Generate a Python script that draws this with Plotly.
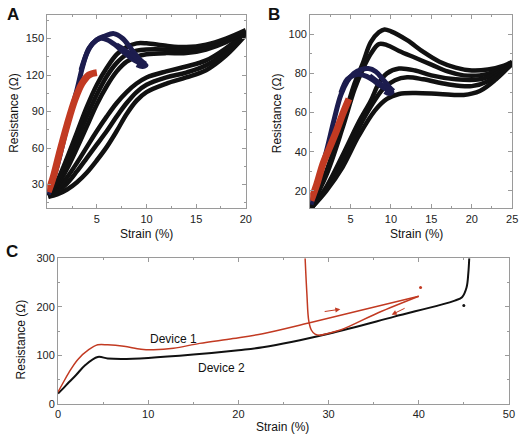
import plotly.graph_objects as go

W, H = 528, 442

# ---------------- Panel A data (strain %, resistance ohm) ----------------
a_red_x = [0.1, 0.6, 1.2, 2.0, 2.8, 3.5, 4.2, 5.0]
a_red_y = [24, 36, 55, 79, 100, 113, 120, 122]

a_nav1_x = [0.1, 1.0, 2.0, 3.0, 3.6, 4.2, 5.0, 5.8, 6.7, 7.6, 8.5, 9.3, 9.9]
a_nav1_y = [22, 45, 78, 108, 128, 142, 149, 152, 154, 150, 141, 133, 129]
a_nav2_x = [3.4, 4.0, 4.6, 5.3, 6.0, 6.8, 7.8, 8.8, 9.8]
a_nav2_y = [124, 138, 146, 150, 149, 145, 138, 132, 128]
a_nav3_x = [7.0, 7.8, 8.6, 9.4, 10.0, 9.6, 9.0]
a_nav3_y = [145, 141, 136, 131, 128, 126.5, 128]

a_grid_x = [0.1, 1, 2, 3, 4, 5, 6, 7, 8, 9, 10, 12, 14, 16, 18, 20]
a_up1_y = [21, 29, 43, 60, 78, 96, 111, 123, 131, 135, 137, 138, 138, 141, 147, 156]
a_up2_y = [21, 31, 48, 67, 86, 104, 119, 130, 137, 140, 141, 141, 140, 143, 148, 156]
a_up3_y = [21, 33, 52, 73, 94, 112, 126, 137, 143, 146, 146, 144, 143, 145, 150, 157]
a_lo1_y = [20, 22, 26, 32, 40, 50, 61, 74, 88, 99, 106, 113, 118, 124, 136, 153]
a_lo2_y = [20, 24, 31, 41, 52, 63, 74, 86, 97, 106, 112, 118, 122, 128, 139, 154]
a_lo3_y = [21, 26, 36, 48, 61, 74, 86, 97, 106, 113, 118, 123, 127, 132, 142, 155]

# ---------------- Panel B data ----------------
b_red_x = [0.1, 0.8, 1.6, 2.4, 3.2, 4.0, 4.8]
b_red_y = [15, 23, 34, 42, 50, 59, 67]

b_nav1_x = [0.1, 1.0, 2.0, 3.0, 3.8, 4.6, 5.4, 6.3, 7.2, 8.1, 9.0, 9.8, 10.3]
b_nav1_y = [13, 25, 40, 57, 69, 76, 80, 82, 82.5, 81, 77, 73, 71]
b_nav2_x = [3.8, 4.6, 5.4, 6.2, 7.0, 7.8, 8.6, 9.4, 10.0]
b_nav2_y = [70, 77, 79, 79.5, 78.5, 76.5, 74, 72, 71]
b_nav3_x = [7.4, 8.2, 9.0, 9.8, 10.2, 9.8, 9.2]
b_nav3_y = [79, 76.5, 74, 72, 70.5, 69.5, 70.5]

b_k1_x = [0.1, 2, 4, 5.5, 6.5, 7.5, 8.5, 9.2, 10, 12, 14, 16, 18, 20, 22, 24, 25]
b_k1_y = [12, 30, 55, 75, 85, 96, 101, 102.5, 101.5, 97, 91, 86, 83, 81.5, 82, 84, 86]
b_k2_x = [0.1, 2, 4, 5.5, 6.5, 7.5, 8.5, 9.5, 11, 13, 15, 17, 19, 21, 23, 25]
b_k2_y = [12, 28, 52, 72, 82, 90, 95, 94.5, 91.5, 88, 84.5, 81, 79, 79, 81, 85]
b_k3_x = [0.1, 2, 4, 6, 7.5, 8.5, 9.5, 11, 13, 15, 18, 21, 23, 25]
b_k3_y = [11, 22, 38, 55, 66, 75, 80, 82.5, 81.5, 79, 77, 77, 80, 85]
b_k4_x = [0.1, 2, 4, 6, 7.5, 9, 10.5, 12, 14, 17, 20, 22, 25]
b_k4_y = [11, 21, 35, 52, 63, 72, 76.5, 78, 77, 74.5, 73.5, 76, 85]
b_k5_x = [0.1, 2, 4, 6, 8, 9.5, 11, 13, 16, 19, 21, 23, 25]
b_k5_y = [11, 20, 32, 48, 61, 67, 69.5, 70, 69.5, 69, 71, 77, 85]

# ---------------- Panel C data ----------------
c_dev1_x = [0, 0.5, 1.2, 2.2, 3.4, 4.4, 5.5, 7.3, 9.2, 10.6, 12.8, 15.7, 19.4, 22.7, 27.8, 33.6, 40.0]
c_dev1_y = [25, 42, 65, 92, 112, 122, 122, 119, 113, 112, 115, 125, 135, 145, 167, 193, 222]
c_ret_x = [40.0, 35.5, 31.4, 29.8, 29.1, 28.5, 28.1, 27.8, 27.6, 27.4]
c_ret_y = [222, 188, 153, 145, 142, 144, 152, 172, 225, 300]
c_dev2_x = [0, 0.6, 1.2, 2.0, 3.0, 4.4, 5.5, 7.0, 10.0, 15.0, 20.0, 22.7, 30.0, 37.3, 44.0, 44.8, 45.3, 45.5, 45.6]
c_dev2_y = [22, 33, 45, 60, 80, 97, 94, 93, 95, 102, 111, 117, 145, 180, 213, 220, 240, 270, 300]
c_dot_red = (40.2, 240)
c_dot_black = (45.0, 203)
c_arrow_fwd = ((29.4, 190), (31.3, 195.3))
c_arrow_back = ((38.6, 198.6), (37.0, 184))

RED = "#c23a22"
NAVY = "#1c1c4e"
BLACK = "#111111"
AX = "#9a9a9a"
FONT = "Arial, Liberation Sans, sans-serif"

fig = go.Figure()


def add(xs, ys, color, width, xa, ya, shape="spline"):
    fig.add_trace(go.Scatter(
        x=xs, y=ys, mode="lines",
        line=dict(color=color, width=width, shape=shape, smoothing=1.0),
        xaxis=xa, yaxis=ya, showlegend=False, hoverinfo="skip"))


# Panel A
for yy in [a_lo1_y, a_lo2_y, a_lo3_y, a_up1_y, a_up2_y, a_up3_y]:
    add(a_grid_x, yy, BLACK, 4.5, "x", "y")
add(a_nav1_x, a_nav1_y, NAVY, 5, "x", "y")
add(a_nav2_x, a_nav2_y, NAVY, 5, "x", "y")
add(a_nav3_x, a_nav3_y, NAVY, 4, "x", "y")
add(a_red_x, a_red_y, RED, 7, "x", "y")

# Panel B
for xx, yy in [(b_k1_x, b_k1_y), (b_k2_x, b_k2_y), (b_k3_x, b_k3_y),
               (b_k4_x, b_k4_y), (b_k5_x, b_k5_y)]:
    add(xx, yy, BLACK, 4.5, "x2", "y2")
add(b_nav1_x, b_nav1_y, NAVY, 5, "x2", "y2")
add(b_nav2_x, b_nav2_y, NAVY, 5, "x2", "y2")
add(b_nav3_x, b_nav3_y, NAVY, 4, "x2", "y2")
add(b_red_x, b_red_y, RED, 7, "x2", "y2")

# Panel C
add(c_dev2_x, c_dev2_y, BLACK, 2, "x3", "y3")
add(c_dev1_x, c_dev1_y, RED, 1.5, "x3", "y3")
add(c_ret_x, c_ret_y, RED, 1.5, "x3", "y3")
fig.add_trace(go.Scatter(x=[c_dot_red[0]], y=[c_dot_red[1]], mode="markers",
                         marker=dict(color=RED, size=3), xaxis="x3", yaxis="y3",
                         showlegend=False, hoverinfo="skip"))
fig.add_trace(go.Scatter(x=[c_dot_black[0]], y=[c_dot_black[1]], mode="markers",
                         marker=dict(color=BLACK, size=3), xaxis="x3", yaxis="y3",
                         showlegend=False, hoverinfo="skip"))


def axis(dom, rng, tickvals, minorvals, anchor):
    return dict(domain=dom, range=rng, anchor=anchor, tickmode="array", tickvals=tickvals,
                ticks="inside", ticklen=4, tickcolor=AX, showline=True, linecolor=AX,
                linewidth=1, mirror="ticks", showgrid=False, zeroline=False,
                tickfont=dict(family=FONT, size=11, color="#222"),
                minor=dict(tickmode="array", tickvals=minorvals, ticks="inside",
                           ticklen=2, tickcolor=AX, showgrid=False))


fx = lambda p: p / W
fy = lambda p: 1 - p / H

fig.update_layout(
    width=W, height=H, margin=dict(l=0, r=0, t=0, b=0),
    paper_bgcolor="white", plot_bgcolor="white",
    xaxis=axis([fx(45), fx(247)], [0, 20], [5, 10, 15, 20], [2.5, 7.5, 12.5, 17.5], "y"),
    yaxis=axis([fy(208), fy(9)], [10.5, 169.5], [30, 60, 90, 120, 150],
               [15, 45, 75, 105, 135, 165], "x"),
    xaxis2=axis([fx(312.5), fx(518)], [0, 25], [5, 10, 15, 20, 25],
                [2.5, 7.5, 12.5, 17.5, 22.5], "y2"),
    yaxis2=axis([fy(208), fy(9)], [11, 110], [20, 40, 60, 80, 100],
                [30, 50, 70, 90], "x2"),
    xaxis3=axis([fx(56), fx(514.7)], [0, 50], [0, 10, 20, 30, 40, 50],
                [5, 15, 25, 35, 45], "y3"),
    yaxis3=axis([fy(409.3), fy(259.3)], [0, 300], [0, 100, 200, 300], [50, 150, 250], "x3"),
)

ann = []


def txt(x, y, s, size=12, bold=False, angle=0):
    ann.append(dict(x=fx(x), y=fy(y), xref="paper", yref="paper", text=("<b>%s</b>" % s) if bold else s,
                    showarrow=False, textangle=angle, xanchor="center", yanchor="middle",
                    font=dict(family=FONT, size=size, color="#111")))


txt(10, 9, "A", 17, True)
txt(276, 9, "B", 17, True)
txt(9, 252, "C", 17, True)
txt(11, 110, "Resistance (Ω)", 12, angle=-90)
txt(279, 110, "Resistance (Ω)", 12, angle=-90)
txt(18, 343, "Resistance (Ω)", 12, angle=-90)
txt(146, 234, "Strain (%)", 12)
txt(421, 234, "Strain (%)", 12)
txt(284, 433, "Strain (%)", 12)

for label, (lx, ly) in [("Device 1", (12.8, 133)), ("Device 2", (18.1, 75))]:
    ann.append(dict(x=lx, y=ly, xref="x3", yref="y3", text=label, showarrow=False,
                    font=dict(family=FONT, size=12, color="#111")))

for (tail, head) in [c_arrow_fwd, c_arrow_back]:
    ann.append(dict(x=head[0], y=head[1], ax=tail[0], ay=tail[1], xref="x3", yref="y3",
                    axref="x3", ayref="y3", text="", showarrow=True, arrowhead=2,
                    arrowsize=1, arrowwidth=1, arrowcolor=RED))

fig.update_layout(annotations=ann)
fig.write_html("out.html")
